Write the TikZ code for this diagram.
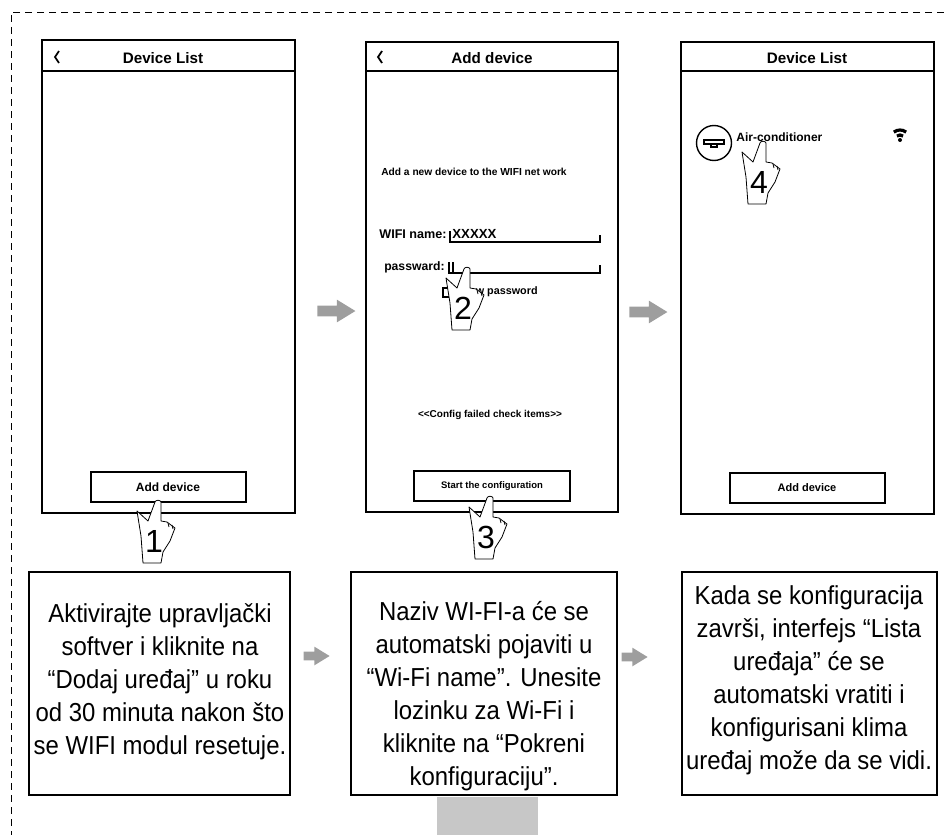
\documentclass[tikz,border=0pt]{standalone}
\usepackage{fontspec}
\setmainfont{Liberation Sans}
\newfontfamily\narrowsans[FakeStretch=0.92]{Liberation Sans}
\usetikzlibrary{positioning, shapes.arrows, calc}

\tikzset{
    frame/.style={line width=0.45pt, dash pattern=on 3.5pt off 2.5pt},
    screen/.style={black, line width=1pt},
    button/.style={black, line width=0.8pt},
    box/.style={black, line width=0.8pt},
    title/.style={font=\bfseries\fontsize{7.6}{9}\selectfont, inner sep=0},
    uitext/.style={font=\bfseries\fontsize{#1}{7}\selectfont, inner sep=0},
    desc/.style={font=\narrowsans\fontsize{13}{16.5}\selectfont, align=center, inner sep=0},
    digit/.style={font=\fontsize{16}{16}\selectfont, inner sep=0},
    handline/.style={line width=0.4pt, fill=white, line join=round},
    grayarrow/.style={single arrow, fill=black!38, draw=none, inner sep=2.5pt,
        single arrow head extend=3pt, single arrow tip angle=63,
        minimum height=19pt},
    smallarrow/.style={grayarrow, inner sep=2pt, single arrow head extend=2.5pt,
        minimum height=13pt},
}

% pointing hand, tip of the finger at (#1,#2), digit #3 on the palm
\def\tiphand#1#2#3{%
    \begin{scope}[shift={(#1,#2)}]
        \draw[handline] (-10,22) -- (-3,3) to[out=80,in=100] (3,3) -- (3,22) -- (9,23)
            -- (17,29) -- (12,42) -- (5,53) -- (3,64) -- (-15,64) -- (-17,37)
            -- (-21,12) -- cycle;
        \draw[handline] (10,24) -- (11,28) (14,26) -- (15,30);
        \node[digit] (N#3) at (-4,42) {#3};
    \end{scope}
}

\begin{document}
\begin{tikzpicture}[x=0.5pt, y=-0.5pt]
    \useasboundingbox (0,0) rectangle (944,835);

    % dashed frame
    \draw[frame] (944,12) -- (11,12) -- (11,835);

    % screens with header line
    \foreach \l/\t/\r/\b in {42/40/295/513, 366/42/618/512, 681/42/934/514}
    {
        \draw[screen] (\l,\t) rectangle (\r,\b);
        \draw[screen] (\l,71) -- (\r,71);
    }

    % buttons
    \foreach \l/\t/\r/\b in {91/472/246/502, 414/471/570/501, 730/473/885/503}
    {
        \draw[button] (\l,\t) rectangle (\r,\b);
    }

    % back chevrons
    \foreach \x in {55, 378}
    {
        \draw[line width=0.9pt] (\x+4,51) -- (\x,57) -- (\x+4,63);
    }

    % titles and button texts
    \node[title] (T1) at (163,58) {Device List};
    \node[title] (T2) at (492,58) {Add device};
    \node[title] (T3) at (807,58) {Device List};

    \node[uitext=6] (K1) at (168,487) {Add device};
    \node[uitext=4.75] (K2) at (492,486) {Start the configuration};
    \node[uitext=5.5] (K3) at (807,488) {Add device};

    % add device form
    \node[uitext=5.1] (F0) at (474,172) {Add a new device to the WIFI net work};
    \node[uitext=6.3, anchor=east] (F1) at (447,234) {WIFI name:};
    \node[uitext=6.6, anchor=west] (F2) at (452,234) {XXXXX};
    \draw[line width=0.6pt] (450,231) -- (450,242) -- (600,242) -- (600,235);
    \node[uitext=6.1, anchor=east] (F3) at (445,267) {passward:};
    \draw[line width=0.6pt] (449,262) -- (449,273) -- (600,273) -- (600,265);
    \draw[line width=0.6pt] (453,262) -- (453,273);
    \draw[line width=0.6pt] (443,288) rectangle (451,297);
    \node[uitext=5.4, anchor=west] (F4) at (455,292) {Show password};
    \node[uitext=5] (F5) at (490,415) {{<}{<}Config failed check items{>}{>}};

    % device list entry
    \draw[line width=0.7pt] (714,143) circle (17.5);
    \draw[line width=0.6pt] (704,140) rectangle (724,144);
    \draw[line width=0.6pt] (711,144) rectangle (717,147);
    \node[uitext=6, anchor=west] (D1) at (736,137) {Air-conditioner};
    \fill (900,140) circle (2);
    \foreach \r in {5,10}
    {
        \draw[line width=1.6pt] (900,140) ++(232:\r) arc[start angle=232, end angle=308, radius=\r];
    }

    % hands
    \tiphand{158}{499}{1}
    \tiphand{467}{266}{2}
    \tiphand{490}{495}{3}
    \tiphand{763}{140}{4}

    % arrows between the screens
    \node[grayarrow] (A1) at (332,311) {};
    \node[grayarrow] (A2) at (644,312) {};

    % description boxes
    \foreach \l/\r in {29/290, 351/617, 682/937}
    {
        \draw[box] (\l,572) rectangle (\r,795);
    }

    \node[desc] (S1) at (160,682) {Aktivirajte upravljački\\softver i kliknite na\\“Dodaj uređaj” u roku\\od 30 minuta nakon što\\se WIFI modul resetuje.};
    \node[desc] (S2) at (484,696) {Naziv WI-FI-a će se\\automatski pojaviti u\\“Wi-Fi name”. Unesite\\lozinku za Wi-Fi i\\kliknite na “Pokreni\\konfiguraciju”.};
    \node[desc] (S3) at (809,680) {Kada se konfiguracija\\završi, interfejs “Lista\\uređaja” će se\\automatski vratiti i\\konfigurisani klima\\uređaj može da se vidi.};

    \node[smallarrow] (A3) at (313,656) {};
    \node[smallarrow] (A4) at (631,657) {};

    % caption tab
    \fill[black!22] (437,797) rectangle (538,835);
\end{tikzpicture}
\end{document}
